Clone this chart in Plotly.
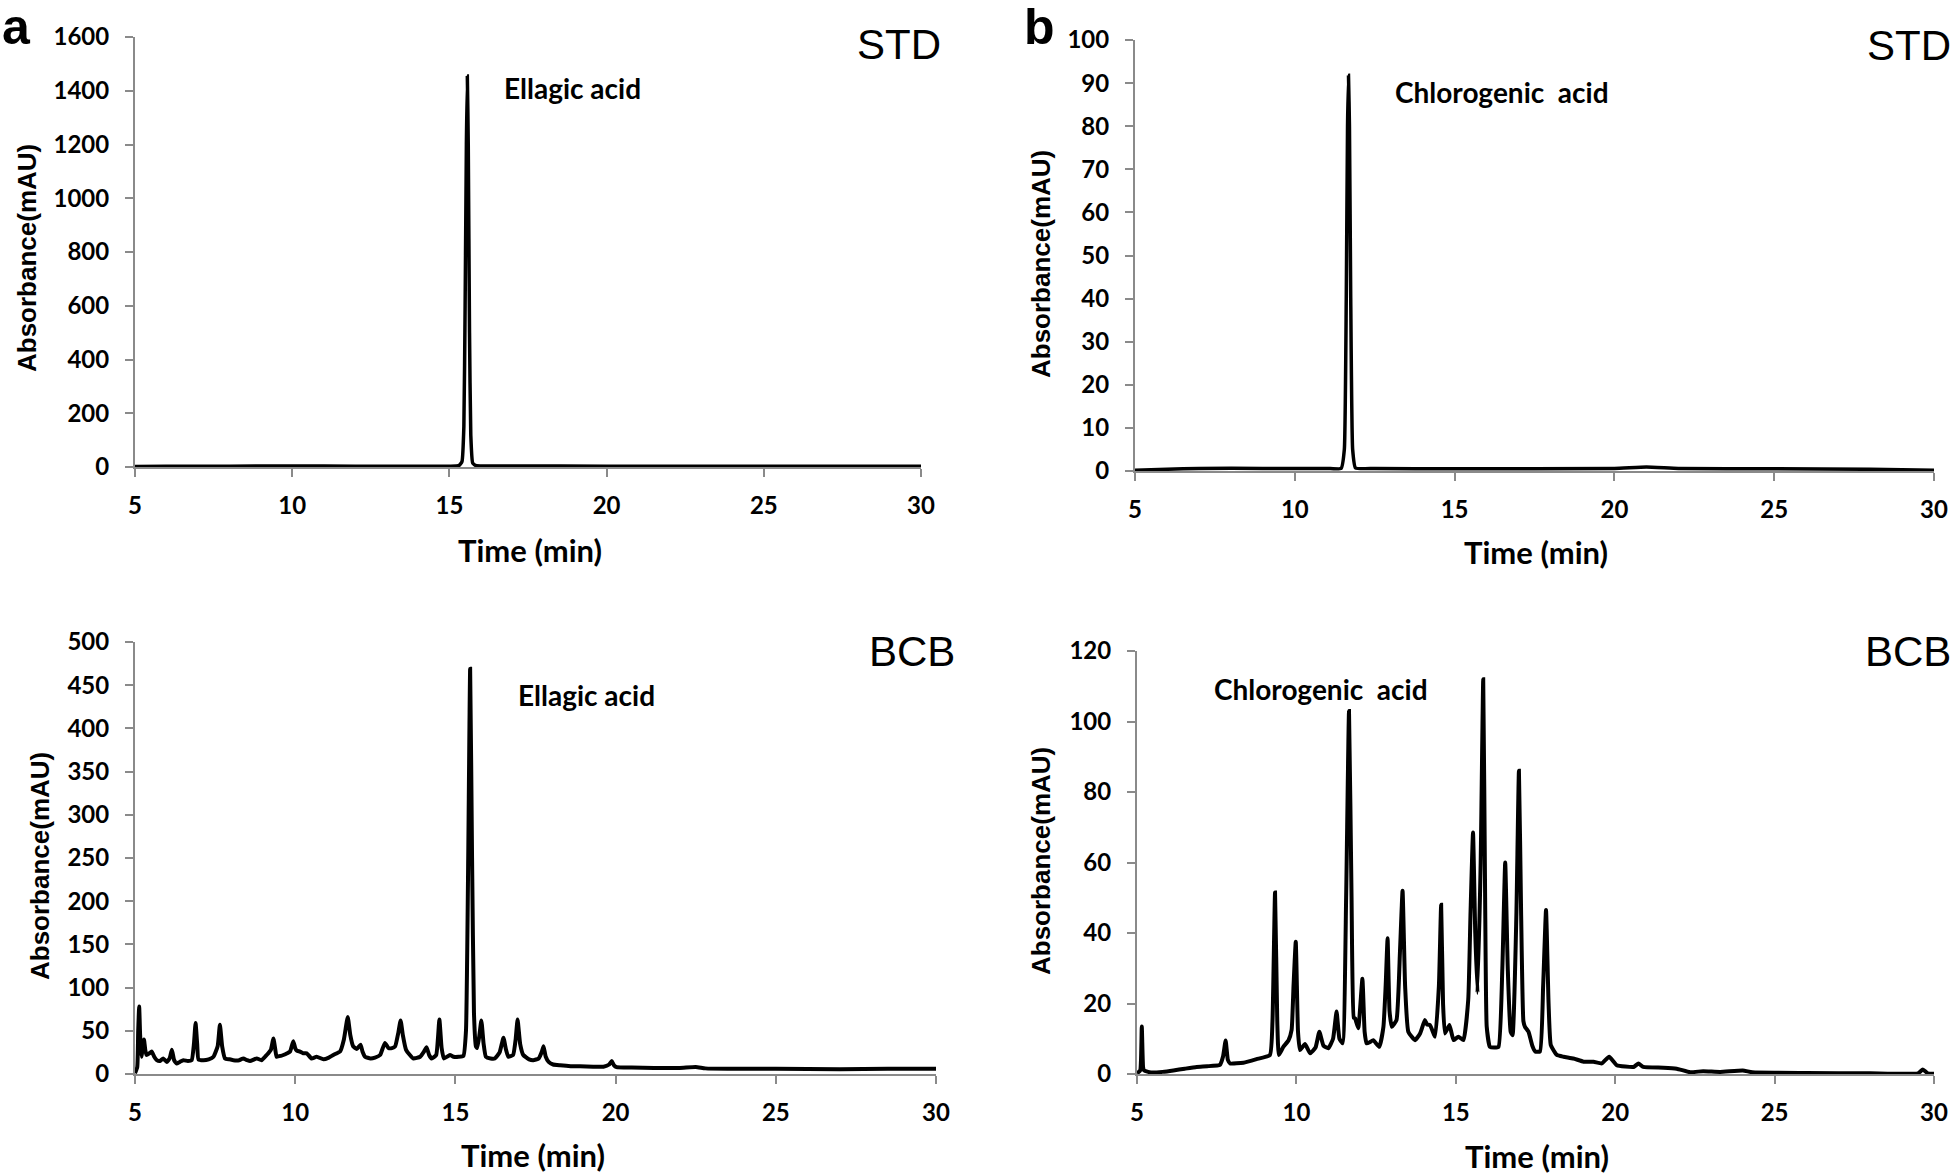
import plotly.graph_objects as go

W, H = 1959, 1176

# ---------------- data ----------------
# (a) STD - ellagic acid standard
std_a_time = [5.0, 6.0, 8.0, 10.0, 12.0, 14.0, 15.0, 15.30, 15.40, 15.46, 15.50, 15.54, 15.57,
              15.60, 15.64, 15.68, 15.74, 15.85, 16.0, 17.0, 20.0, 25.0, 30.0]
std_a_abs = [2, 3, 3, 4, 3, 3, 3, 5, 20, 150, 600, 1200, 1455,
             1200, 500, 120, 15, 5, 4, 4, 3, 3, 3]

# (a) BCB sample
bcb_a_time = [5.00, 5.07, 5.10, 5.13, 5.16, 5.20, 5.24, 5.28, 5.32, 5.36, 5.45, 5.52, 5.60, 5.68,
              5.78, 5.88, 5.99, 6.08, 6.15, 6.22, 6.30, 6.40, 6.51, 6.65, 6.77, 6.84, 6.89, 6.94,
              6.98, 7.13, 7.30, 7.45, 7.58, 7.65, 7.72, 7.81, 7.95, 8.07, 8.25, 8.38, 8.50, 8.59,
              8.80, 8.95, 9.11, 9.24, 9.32, 9.38, 9.42, 9.55, 9.63, 9.75, 9.84, 9.94, 10.00, 10.05,
              10.15, 10.25, 10.36, 10.51, 10.67, 10.88, 11.05, 11.19, 11.30, 11.40, 11.52, 11.64,
              11.72, 11.81, 11.92, 12.04, 12.10, 12.18, 12.35, 12.49, 12.65, 12.80, 12.91, 13.02,
              13.12, 13.22, 13.29, 13.36, 13.46, 13.58, 13.69, 13.90, 14.02, 14.10, 14.18, 14.26,
              14.40, 14.50, 14.57, 14.64, 14.83, 14.94, 15.10, 15.25, 15.33, 15.40, 15.46, 15.52,
              15.58, 15.64, 15.68, 15.75, 15.81, 15.88, 15.95, 16.10, 16.23, 16.38, 16.50, 16.58,
              16.65, 16.80, 16.88, 16.94, 17.02, 17.12, 17.30, 17.43, 17.60, 17.70, 17.75, 17.82,
              17.91, 18.05, 18.27, 18.60, 18.89, 19.30, 19.62, 19.80, 19.88, 19.95, 20.03, 20.5,
              21.2, 22.0, 22.5, 22.8, 23.5, 25.0, 27.0, 28.5, 30.0]
bcb_a_abs = [1, 8, 50, 78, 45, 20, 30, 40, 28, 22, 24, 26, 20, 16,
             15, 18, 14, 18, 28, 16, 12, 14, 16, 15, 16, 35, 59, 35,
             17, 16, 17, 20, 32, 57, 32, 18, 17, 16, 16, 18, 16, 15,
             18, 16, 22, 28, 41, 28, 20, 21, 22, 24, 26, 38, 30, 27,
             26, 24, 24, 18, 20, 17, 19, 22, 24, 26, 40, 66,
             45, 32, 29, 34, 26, 20, 18, 19, 22, 36, 30, 30,
             32, 48, 62, 45, 28, 22, 18, 20, 26, 31, 22, 18,
             22, 63, 30, 18, 22, 20, 20, 21, 50, 250, 469, 250,
             70, 32, 30, 45, 62, 35, 20, 18, 18, 25, 42, 28,
             20, 22, 40, 63, 35, 22, 17, 16, 18, 26, 32, 20,
             14, 11, 10, 9, 9, 8.5, 8.5, 11, 15, 10, 8, 7.5,
             7, 7, 8, 6.5, 6, 6, 5.5, 6, 6]

# (b) STD - chlorogenic acid standard
std_b_time = [5.0, 6.0, 7.0, 9.0, 11.0, 11.45, 11.55, 11.61, 11.65, 11.68, 11.71, 11.75, 11.81,
              11.90, 12.5, 15.0, 20.0, 21.0, 22.0, 25.0, 28.0, 30.0]
std_b_abs = [0.2, 0.4, 0.6, 0.6, 0.6, 0.6, 5, 40, 80, 91.8, 80, 40, 5,
             0.7, 0.6, 0.5, 0.6, 0.9, 0.6, 0.5, 0.4, 0.2]

# (b) BCB sample
bcb_b_time = [5.00, 5.10, 5.15, 5.19, 5.22, 5.35, 5.51, 5.80, 6.14, 6.50, 6.87, 7.20, 7.60, 7.70,
              7.78, 7.85, 7.92, 8.34, 8.75, 9.17, 9.25, 9.33, 9.40, 9.45, 9.59, 9.75, 9.85, 9.91,
              9.98, 10.05, 10.11, 10.27, 10.43, 10.60, 10.72, 10.85, 11.00, 11.15, 11.26, 11.35,
              11.45, 11.56, 11.65, 11.73, 11.80, 11.84, 11.94, 12.07, 12.14, 12.20, 12.30, 12.41,
              12.60, 12.73, 12.80, 12.86, 12.92, 12.99, 13.14, 13.25, 13.33, 13.41, 13.51, 13.72,
              13.88, 14.03, 14.10, 14.19, 14.35, 14.47, 14.54, 14.60, 14.66, 14.80, 14.93, 15.08,
              15.24, 15.39, 15.46, 15.54, 15.61, 15.68, 15.78, 15.86, 15.92, 15.97, 16.07, 16.20,
              16.34, 16.46, 16.55, 16.63, 16.72, 16.78, 16.90, 16.98, 17.05, 17.12, 17.17, 17.28,
              17.40, 17.49, 17.64, 17.74, 17.83, 17.91, 17.98, 18.17, 18.38, 18.69, 19.01, 19.32,
              19.58, 19.81, 20.05, 20.58, 20.73, 20.88, 21.51, 21.93, 22.35, 22.76, 23.29, 24.0,
              24.3, 26.0, 28.0, 29.5, 29.65, 29.8, 30.0]
bcb_b_abs = [0.2, 1, 13.5, 2, 1, 0.6, 0.4, 0.6, 1, 1.5, 2, 2.2, 2.6, 5,
             9.5, 4, 3, 3.2, 4.2, 5.4, 15, 51.5, 15, 5.4, 7.7, 9.5, 12.5, 25,
             37.5, 12, 6.8, 8.5, 5.9, 7.5, 12, 8, 7.3, 10, 17.7, 10,
             8.7, 50, 103, 50, 16, 15.8, 13, 27, 12, 8.7, 9, 9.6,
             7.7, 13.4, 25, 38.5, 18, 13.4, 15.3, 35, 52, 25, 12, 9.6,
             11.5, 15.3, 14, 13.9, 10.6, 25, 48, 20, 11.5, 13.9, 9.6, 10.6,
             9.6, 21, 45, 68.5, 40, 23, 60, 112, 50, 13.4, 7.7, 7.5,
             7.7, 30, 60, 30, 12, 11, 45, 86, 45, 15, 13.4, 12,
             8, 6.4, 6.4, 25, 46.5, 20, 8.2, 5.4, 4.9, 4.4, 3.5, 3.5,
             3, 4.9, 2.5, 2, 3, 2, 1.8, 1.5, 0.5, 0.8, 0.6, 1,
             0.5, 0.3, 0.2, 0.2, 1.3, 0.2, 0.1]

x_ticks = [5, 10, 15, 20, 25, 30]
y_ticks_std_a = [0, 200, 400, 600, 800, 1000, 1200, 1400, 1600]
y_ticks_bcb_a = [0, 50, 100, 150, 200, 250, 300, 350, 400, 450, 500]
y_ticks_std_b = [0, 10, 20, 30, 40, 50, 60, 70, 80, 90, 100]
y_ticks_bcb_b = [0, 20, 40, 60, 80, 100, 120]

panel_letters = ["a", "b"]
sample_labels = ["STD", "STD", "BCB", "BCB"]
peak_labels = ["Ellagic acid", "Chlorogenic  acid", "Ellagic acid", "Chlorogenic  acid"]
x_title = "Time (min)"
y_title = "Absorbance(mAU)"

# ---------------- figure ----------------
def fx(p):
    return p / W

def fy(p):
    return 1 - p / H

TICK_FONT = dict(family="Lato, Carlito, Calibri, sans-serif", size=24, color="black", weight="bold")
AX_COLOR = "#8a8a8a"

panels = [
    # (x px left, x px right, y px top, y px bottom, yrange, yticks, time, abs, line width)
    (135, 921, 37, 467, [0, 1600], y_ticks_std_a, std_a_time, std_a_abs, 3.5),
    (1135, 1934, 40, 471, [0, 100], y_ticks_std_b, std_b_time, std_b_abs, 3.5),
    (135, 936, 642, 1074, [0, 500], y_ticks_bcb_a, bcb_a_time, bcb_a_abs, 4),
    (1137, 1934, 651, 1074, [0, 120], y_ticks_bcb_b, bcb_b_time, bcb_b_abs, 4),
]

fig = go.Figure()
layout = dict(
    width=W, height=H, margin=dict(l=0, r=0, t=0, b=0, autoexpand=False),
    paper_bgcolor="white", plot_bgcolor="white", showlegend=False,
)

for i, (xl, xr, yt, yb, yr, yt_vals, tt, aa, lw) in enumerate(panels):
    n = "" if i == 0 else str(i + 1)
    fig.add_trace(go.Scatter(x=tt, y=aa, mode="lines",
                             line=dict(color="black", width=lw, shape="spline", smoothing=0.4),
                             xaxis="x" + n, yaxis="y" + n, hoverinfo="skip"))
    layout["xaxis" + n] = dict(
        domain=[fx(xl), fx(xr)], range=[5, 30], anchor="y" + n, automargin=False,
        tickvals=x_ticks, ticks="outside", ticklen=8, tickwidth=2, tickcolor=AX_COLOR,
        showline=True, linecolor=AX_COLOR, linewidth=2, showgrid=False, zeroline=False,
        tickfont=TICK_FONT, ticklabelstandoff=8,
    )
    layout["yaxis" + n] = dict(
        domain=[fy(yb), fy(yt)], range=yr, anchor="x" + n, automargin=False,
        tickvals=yt_vals, ticks="outside", ticklen=8, tickwidth=2, tickcolor=AX_COLOR,
        showline=True, linecolor=AX_COLOR, linewidth=2, showgrid=False, zeroline=False,
        tickfont=TICK_FONT, ticklabelstandoff=11,
    )

fig.update_layout(**layout)

ann = []
# panel letters
for txt, x in zip(panel_letters, [16, 1039]):
    ann.append(dict(text=txt, x=fx(x), y=fy(27), xref="paper", yref="paper",
                    xanchor="center", yanchor="middle", showarrow=False,
                    font=dict(family="Liberation Sans, Arial, sans-serif", size=50,
                              color="black", weight="bold")))
# sample labels (STD / BCB), right-aligned
for txt, (x, y) in zip(sample_labels, [(943, 45), (1953, 46), (957, 651), (1953, 651)]):
    ann.append(dict(text=txt, x=fx(x), y=fy(y), xref="paper", yref="paper",
                    xanchor="right", yanchor="middle", showarrow=False,
                    font=dict(family="Liberation Sans, Arial, sans-serif", size=42, color="black")))
# peak labels
for txt, (x, y) in zip(peak_labels, [(572, 88), (1502, 92), (586, 695), (1321, 689)]):
    ann.append(dict(text=txt, x=fx(x), y=fy(y), xref="paper", yref="paper",
                    xanchor="center", yanchor="middle", showarrow=False,
                    font=dict(family="Lato, Carlito, Calibri, sans-serif", size=28,
                              color="black", weight="bold")))
# x-axis titles
for (x, y) in [(530, 550), (1536, 552), (533, 1155), (1537, 1156)]:
    ann.append(dict(text=x_title, x=fx(x), y=fy(y), xref="paper", yref="paper",
                    xanchor="center", yanchor="middle", showarrow=False,
                    font=dict(family="Lato, Carlito, Calibri, sans-serif", size=31,
                              color="black", weight="bold")))
# y-axis titles
for (x, y) in [(27, 258), (1041, 264), (40, 866), (1041, 861)]:
    ann.append(dict(text=y_title, x=fx(x), y=fy(y), xref="paper", yref="paper",
                    xanchor="center", yanchor="middle", showarrow=False, textangle=-90,
                    font=dict(family="Liberation Sans, Arial, sans-serif", size=26,
                              color="black", weight="bold")))

fig.update_layout(annotations=ann)
fig.write_html(
    "out.html",
    config={"displayModeBar": False},
    post_script="document.body.style.margin='0';document.body.style.overflow='hidden';",
)
